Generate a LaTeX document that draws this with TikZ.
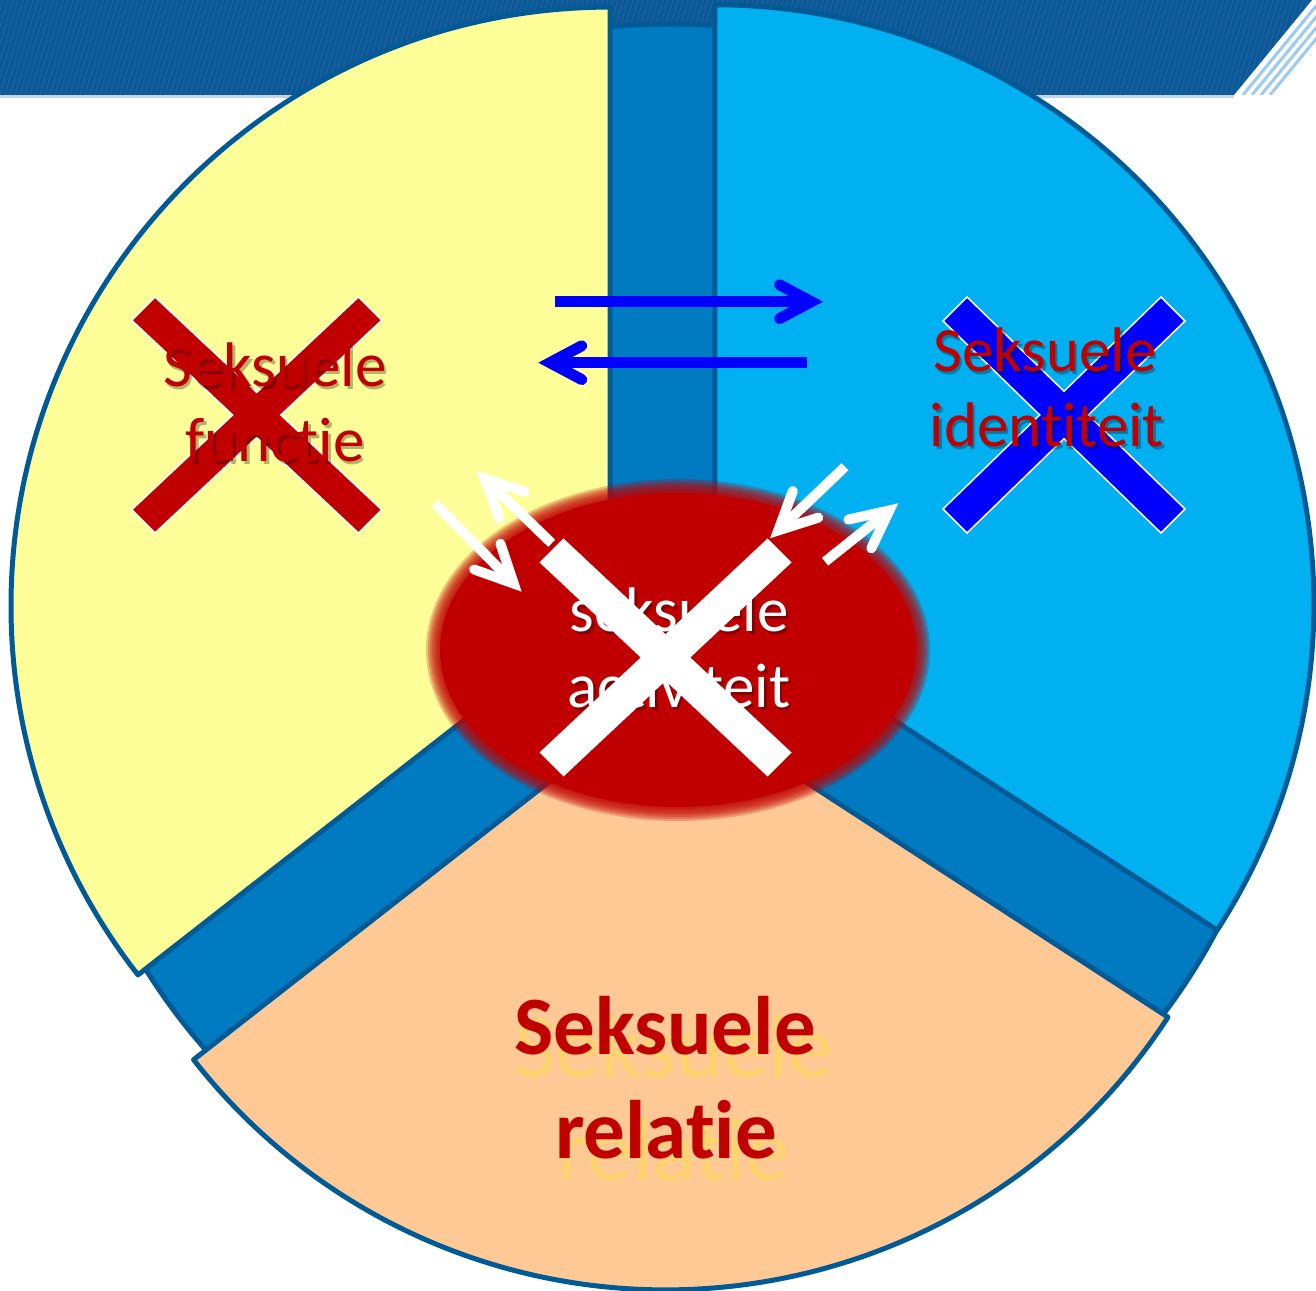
\documentclass[tikz,border=0pt]{standalone}
\usepackage{fontspec}
\setmainfont{Carlito}[Ligatures={NoCommon,NoRequired,NoContextual}]
\usetikzlibrary{calc}
\definecolor{bandblue}{HTML}{0C5796}
\definecolor{bandline}{HTML}{2F72AE}
\definecolor{stripelight}{HTML}{9CCBEE}
\definecolor{baseblue}{HTML}{007AC0}
\definecolor{rimblue}{HTML}{005A96}
\definecolor{yellowfill}{HTML}{FFFF99}
\definecolor{cyanfill}{HTML}{00B0F0}
\definecolor{peachfill}{HTML}{FFC996}
\definecolor{darkred}{HTML}{C00000}
\definecolor{pureblue}{HTML}{0000FF}
\definecolor{ghostgold}{HTML}{FFD470}
\tikzset{
  sector/.style={draw=rimblue, line width=5pt, line join=round},
  bluearrow/.style={draw=pureblue, line width=11pt},
  whitearrow/.style={draw=white, line width=10pt},
  midtext/.style={anchor=base, inner sep=0pt, font=\fontsize{63}{75}\selectfont},
  redtext/.style={midtext, text=darkred},
  shadetext/.style={midtext, text=black, text opacity=0.3},
  boldtext/.style={anchor=base, inner sep=0pt, text=darkred, font=\fontsize{83}{100}\selectfont\bfseries},
  ghosttext/.style={anchor=base, inner sep=0pt, text=ghostgold, font=\fontsize{90}{100}\selectfont},
}
\newcommand{\crossmark}[8]{\path[#1] (#2-#4+#6,#3+#5) -- (#2,#3+#7) -- (#2+#4-#6,#3+#5) -- (#2+#4,#3+#5-#6) -- (#2+#8,#3) -- (#2+#4,#3-#5+#6) -- (#2+#4-#6,#3-#5) -- (#2,#3-#7) -- (#2-#4+#6,#3-#5) -- (#2-#4,#3-#5+#6) -- (#2-#8,#3) -- (#2-#4,#3+#5-#6) -- cycle;}
\newcommand{\mychev}[6]{%
  \draw[#1, line cap=butt] (#2) -- ($(#3)!#4!(#2)$);
  \draw[#1, line cap=round, line join=miter] ($(#3)!#4!(#2)!#5!#6:(#2)$) -- ($(#3)!#4!(#2)$) -- ($(#3)!#4!(#2)!#5!-#6:(#2)$);}
\begin{document}
\begin{tikzpicture}[x=1pt,y=1pt]
\useasboundingbox (0,0) rectangle (1316,1290);
\fill[white] (0,0) rectangle (1316,1290);
% top band
\fill[bandblue] (0,1195) -- (0,1290) -- (1312,1290) -- (1234,1195) -- cycle;
\begin{scope}
  \clip (0,1195) -- (0,1290) -- (1312,1290) -- (1234,1195) -- cycle;
  \foreach \i in {-40,-35,...,1316} \draw[bandline, line width=1.2pt, opacity=0.45] (\i,1195) -- (\i+28,1290);
\end{scope}
\begin{scope}
  \clip (0,1195) rectangle (1316,1290);
  \foreach \o in {9,18,27,36} \draw[stripelight, line width=3pt] (1234+\o,1195) -- (1312+\o,1290);
\end{scope}
\fill[bandblue!25] (0,1192) rectangle (1234,1195);
% dark base disc
\filldraw[fill=baseblue, sector] (670,648) circle [radius=618];
% sectors
\coordinate (ya) at (610,683.9);
\coordinate (ba) at (714.8,686.2);
\coordinate (pa) at (665.6,599.1);
\filldraw[fill=yellowfill, sector] (ya) -- ++(90:599) arc[start angle=90, end angle=218, radius=599] -- cycle;
\filldraw[fill=cyanfill, sector] (ba) -- ++(-33:599) arc[start angle=-33, end angle=90, radius=599] -- cycle;
\filldraw[fill=peachfill, sector] (pa) -- ++(218:599) arc[start angle=218, end angle=327, radius=599] -- cycle;
% blue arrows
\coordinate (b1s) at (555,988.3);
\coordinate (b1t) at (823,988.3);
\coordinate (b2s) at (807,927.3);
\coordinate (b2t) at (538.3,927.3);
\mychev{bluearrow}{b1s}{b1t}{11.7pt}{36pt}{28}
\mychev{bluearrow}{b2s}{b2t}{11.7pt}{36pt}{28}
% crosses on side sectors
\crossmark{fill=darkred, draw=white, line width=1.5pt}{256.7}{875}{125}{118}{23.3}{22.6}{24.1}
\crossmark{fill=pureblue, draw=white, line width=1.5pt}{1064}{875}{121}{118}{24}{23.7}{24.3}
% side texts
\node[shadetext] (fun1s) at (277.5,900.5) {Seksuele};
\node[shadetext] (fun2s) at (277.5,825.5) {functie};
\node[redtext] (fun1) at (275,903) {Seksuele};
\node[redtext] (fun2) at (275,828) {functie};
\node[shadetext] (id1s) at (1047.5,915.5) {Seksuele};
\node[shadetext] (id2s) at (1049.5,840.5) {identiteit};
\node[redtext] (id1) at (1045,918) {Seksuele};
\node[redtext] (id2) at (1047,843) {identiteit};
% central blurred ellipse
\coordinate (ec) at (678,640);
\foreach \k in {0,...,7} \fill[darkred, opacity=0.24] (ec) ellipse [x radius={238+2*\k}, y radius={157+2*\k}];
\fill[darkred] (ec) ellipse [x radius=238, y radius=157];
% central text
\node[shadetext] (act1s) at (681.5,655.5) {seksuele};
\node[shadetext] (act2s) at (681.5,579.5) {activiteit};
\node[midtext, text=white] (act1) at (679,658) {seksuele};
\node[midtext, text=white] (act2) at (679,582) {activiteit};
\crossmark{fill=white}{665.5}{632.5}{126}{119}{24}{23.3}{24.8}
% white arrows
\coordinate (wAs) at (435,786.7);
\coordinate (wAt) at (521.7,698.3);
\coordinate (wBs) at (551.7,746.7);
\coordinate (wBt) at (476.7,819.3);
\coordinate (wCs) at (845,823.3);
\coordinate (wCt) at (770,751.7);
\coordinate (wDs) at (825,728.3);
\coordinate (wDt) at (898.3,786.7);
\mychev{whitearrow}{wAs}{wAt}{11.4pt}{42pt}{26}
\mychev{whitearrow}{wBs}{wBt}{11.4pt}{42pt}{26}
\mychev{whitearrow}{wCs}{wCt}{11.4pt}{42pt}{26}
\mychev{whitearrow}{wDs}{wDt}{11.4pt}{42pt}{26}
% bottom text
\node[ghosttext] (rel1g) at (674,212) {Seksuele};
\node[ghosttext] (rel2g) at (674,110) {relatie};
\node[boldtext] (rel1) at (665,235) {Seksuele};
\node[boldtext] (rel2) at (666,132) {relatie};
\end{tikzpicture}
\end{document}
